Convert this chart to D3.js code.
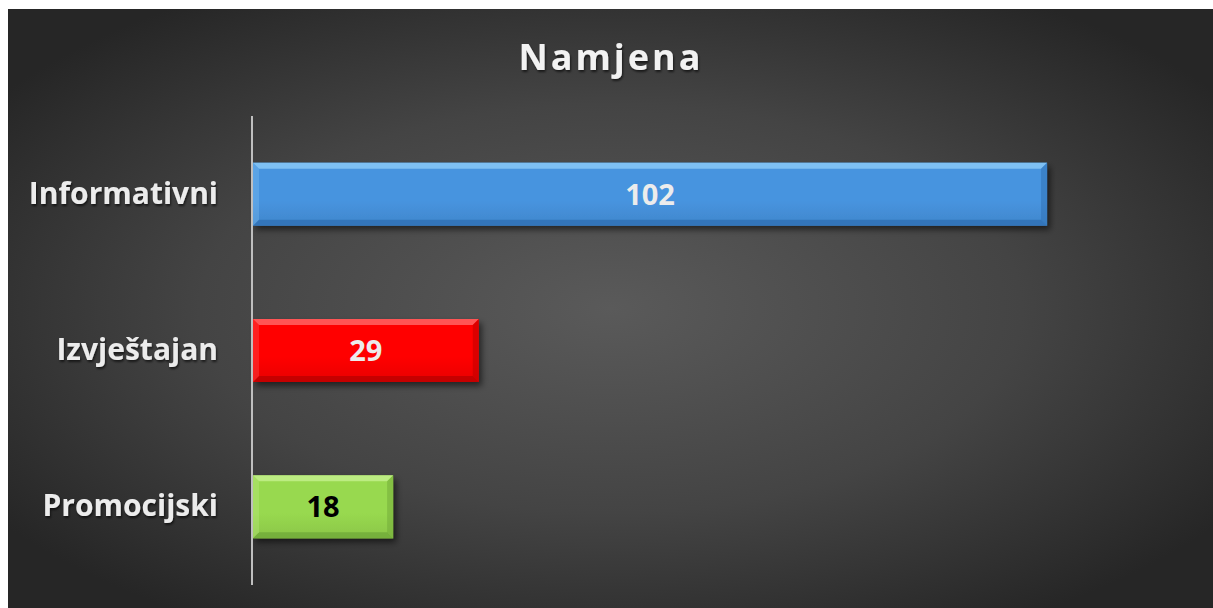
<!DOCTYPE html>
<html>
<head>
<meta charset="utf-8">
<script src="https://cdn.jsdelivr.net/npm/d3@7"></script>
<style>
  html, body { margin: 0; padding: 0; background: #ffffff; }
  svg { display: block; }
</style>
</head>
<body>
<svg id="chart" width="1213" height="608"></svg>
<script>
// Chart data
const title = "Namjena";
const categories = ["Informativni", "Izvještajan", "Promocijski"];
const values = [102, 29, 18];
const barColors = ["#4794df", "#ff0000", "#98d94f"];
const barLight = ["#8ccaf8", "#ff6a6a", "#c6f08e"];
const barDark = ["#2f6fb3", "#b80000", "#6fa838"];
const valueColors = ["#ececec", "#ececec", "#000000"];

const W = 1213, H = 608;
const svg = d3.select("#chart");
const defs = svg.append("defs");

// Chart area background: radial glow toward the centre
const bg = defs.append("radialGradient").attr("id", "bgGrad")
  .attr("cx", "50%").attr("cy", "50%").attr("r", "62%")
  .attr("gradientUnits", "objectBoundingBox");
bg.append("stop").attr("offset", "0%").attr("stop-color", "#5a5a5a");
bg.append("stop").attr("offset", "55%").attr("stop-color", "#444444");
bg.append("stop").attr("offset", "100%").attr("stop-color", "#262626");

const shadow = defs.append("filter").attr("id", "barShadow")
  .attr("x", "-5%").attr("y", "-20%").attr("width", "115%").attr("height", "150%");
shadow.append("feDropShadow").attr("dx", 3).attr("dy", 4).attr("stdDeviation", 3)
  .attr("flood-color", "#000").attr("flood-opacity", 0.55);

const textShadow = defs.append("filter").attr("id", "textShadow")
  .attr("x", "-10%").attr("y", "-20%").attr("width", "130%").attr("height", "150%");
textShadow.append("feDropShadow").attr("dx", 1).attr("dy", 2).attr("stdDeviation", 1.2)
  .attr("flood-color", "#000").attr("flood-opacity", 0.6);

categories.forEach((c, i) => {
  const g = defs.append("linearGradient").attr("id", "barGrad" + i)
    .attr("x1", 0).attr("y1", 0).attr("x2", 0).attr("y2", 1);
  g.append("stop").attr("offset", "0%").attr("stop-color", barColors[i]);
  g.append("stop").attr("offset", "60%").attr("stop-color", barColors[i]);
  g.append("stop").attr("offset", "100%").attr("stop-color", d3.color(barColors[i]).darker(0.25));
});

svg.append("rect").attr("x", 8).attr("y", 9).attr("width", W - 8).attr("height", H - 9)
  .attr("fill", "url(#bgGrad)");

// Scales
const plot = { left: 253, top: 116, bottom: 585 };
const x = d3.scaleLinear().domain([0, 120]).range([plot.left, plot.left + 120 * 7.785]);
const y = d3.scaleBand().domain(categories).range([plot.top, plot.bottom])
  .paddingInner(0.597).paddingOuter(0.2985);

// Title
svg.append("text")
  .attr("x", 611).attr("y", 70)
  .attr("text-anchor", "middle")
  .attr("font-family", "'Open Sans', sans-serif")
  .attr("font-weight", 700).attr("font-size", 36)
  .attr("letter-spacing", 3)
  .attr("fill", "#f2f2f2")
  .attr("filter", "url(#textShadow)")
  .text(title);

// Bars with bevelled edges
const bev = 6;
const barG = svg.append("g");
categories.forEach((c, i) => {
  const x0 = x(0), x1 = x(values[i]);
  const y0 = y(c), y1 = y(c) + y.bandwidth();
  const g = barG.append("g");
  g.append("rect").attr("x", x0).attr("y", y0).attr("width", x1 - x0).attr("height", y1 - y0)
    .attr("fill", "url(#barGrad" + i + ")").attr("filter", "url(#barShadow)");
  // top bevel
  g.append("polygon")
    .attr("points", [[x0, y0], [x1, y0], [x1 - bev, y0 + bev], [x0 + bev, y0 + bev]].join(" "))
    .attr("fill", barLight[i]).attr("opacity", 0.8);
  // bottom bevel
  g.append("polygon")
    .attr("points", [[x0, y1], [x1, y1], [x1 - bev, y1 - bev], [x0 + bev, y1 - bev]].join(" "))
    .attr("fill", barDark[i]).attr("opacity", 0.75);
  // left bevel
  g.append("polygon")
    .attr("points", [[x0, y0], [x0 + bev, y0 + bev], [x0 + bev, y1 - bev], [x0, y1]].join(" "))
    .attr("fill", barLight[i]).attr("opacity", 0.3);
  // right bevel
  g.append("polygon")
    .attr("points", [[x1, y0], [x1 - bev, y0 + bev], [x1 - bev, y1 - bev], [x1, y1]].join(" "))
    .attr("fill", barDark[i]).attr("opacity", 0.5);

  g.append("text")
    .attr("x", (x0 + x1) / 2).attr("y", (y0 + y1) / 2)
    .attr("dy", "0.36em")
    .attr("text-anchor", "middle")
    .attr("font-family", "'Open Sans', sans-serif")
    .attr("font-weight", 700).attr("font-size", 29)
    .attr("fill", valueColors[i])
    .text(values[i]);
});

// Category axis
const yAxis = d3.axisLeft(y).tickSize(0).tickPadding(34);
const ax = svg.append("g").attr("transform", `translate(${plot.left - 1},0)`).call(yAxis);
ax.select(".domain").attr("stroke", "#bfbfbf").attr("stroke-width", 2)
  .attr("d", `M0,${plot.top}V${plot.bottom}`);
ax.selectAll("text")
  .attr("font-family", "'Open Sans', sans-serif")
  .attr("font-weight", 700).attr("font-size", 30)
  .attr("fill", "#ececec")
  .attr("filter", "url(#textShadow)");
</script>
</body>
</html>
